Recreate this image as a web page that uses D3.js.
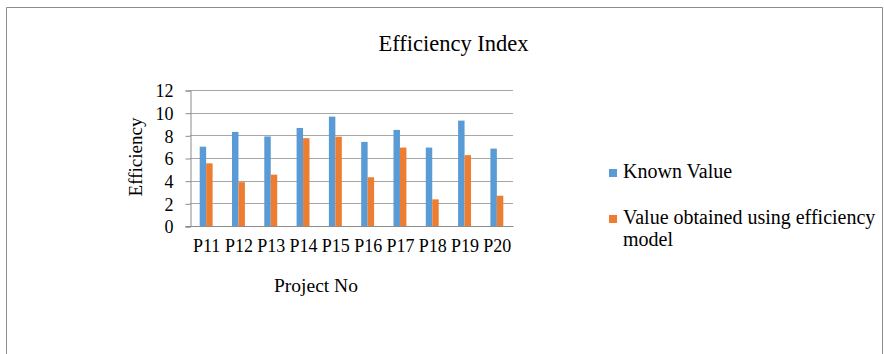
<!DOCTYPE html>
<html><head><meta charset="utf-8">
<script src="https://cdn.jsdelivr.net/npm/d3@7"></script>
<style>body{margin:0;background:#fff}svg{display:block}text{font-family:"Liberation Serif","Times New Roman",serif;fill:#000}</style>
</head><body><svg id="c" width="884" height="354"></svg>
<script>
const categories = ["P11","P12","P13","P14","P15","P16","P17","P18","P19","P20"];
const knownValue = [7.0, 8.3, 7.9, 8.65, 9.65, 7.42, 8.48, 6.92, 9.3, 6.83];
const modelValue = [5.53, 3.87, 4.53, 7.75, 7.88, 4.3, 6.92, 2.35, 6.25, 2.67];
const seriesNames = ["Known Value", "Value obtained using efficiency model"];
const yTicks = [0,2,4,6,8,10,12];

const svg = d3.select("#c");
const m = {l:190, r:513, t:90, b:226};
// outer border
svg.append("path").attr("d","M6.5,354 V7.5 H882.5 V354").attr("fill","none").attr("stroke","#8c8c8c").attr("stroke-width",1);

const x = d3.scaleBand().domain(categories).range([m.l, m.r]);
const inner = d3.scaleBand().domain([0,1]).range([0, x.bandwidth()]).paddingInner(0).paddingOuter(1.5);
const y = d3.scaleLinear().domain([0,12]).range([m.b, m.t]);

// gridlines
svg.append("g").selectAll("line").data(yTicks.filter(d=>d>0)).join("line")
  .attr("x1", m.l).attr("x2", m.r).attr("y1", d=>Math.round(y(d))+0.5).attr("y2", d=>Math.round(y(d))+0.5)
  .attr("stroke","#a6a6a6").attr("stroke-width",1);

// y axis
const yAxis = svg.append("g").attr("transform",`translate(${m.l+0.5},0.5)`)
  .call(d3.axisLeft(y).tickValues(yTicks).tickSize(5).tickPadding(12));
yAxis.select(".domain").attr("stroke","#8c8c8c");
yAxis.selectAll(".tick line").attr("stroke","#8c8c8c");
yAxis.selectAll(".tick text").style("font-size","18px").attr("fill","#000").attr("dy","0.35em");

// x axis
const xAxis = svg.append("g").attr("transform",`translate(0.5,${m.b+0.5})`)
  .call(d3.axisBottom(x).tickSize(0).tickPadding(13));
xAxis.select(".domain").attr("stroke","#8c8c8c").attr("d",`M${m.l-5},0H${m.r}`);
xAxis.selectAll(".tick text").style("font-size","18px").attr("fill","#000");

// bars
const series = [knownValue, modelValue];
const colors = ["#5b9bd5","#ed7d31"];
series.forEach((vals,si)=>{
  svg.append("g").selectAll("rect").data(vals).join("rect")
    .attr("x",(d,i)=>x(categories[i])+inner(si))
    .attr("width", inner.bandwidth())
    .attr("y", d=>y(d)).attr("height", d=>y(0)-y(d))
    .attr("fill", colors[si]);
});

// titles
svg.append("text").attr("x",453.5).attr("y",51).attr("text-anchor","middle").style("font-size","22.5px").text("Efficiency Index");
svg.append("text").attr("x",316).attr("y",292).attr("text-anchor","middle").style("font-size","19.5px").text("Project No");
svg.append("text").attr("transform","translate(142,157) rotate(-90)").attr("text-anchor","middle").style("font-size","19px").text("Efficiency");

// legend
const lg = svg.append("g");
lg.append("rect").attr("x",609).attr("y",169).attr("width",8).attr("height",8).attr("fill",colors[0]);
lg.append("text").attr("x",623).attr("y",178).style("font-size","20px").text(seriesNames[0]);
lg.append("rect").attr("x",609).attr("y",215).attr("width",8).attr("height",8).attr("fill",colors[1]);
const t2 = lg.append("text").attr("x",623).attr("y",224).style("font-size","20px");
t2.append("tspan").attr("x",623).text("Value obtained using efficiency");
t2.append("tspan").attr("x",623).attr("dy",22).text("model");
</script></body></html>
